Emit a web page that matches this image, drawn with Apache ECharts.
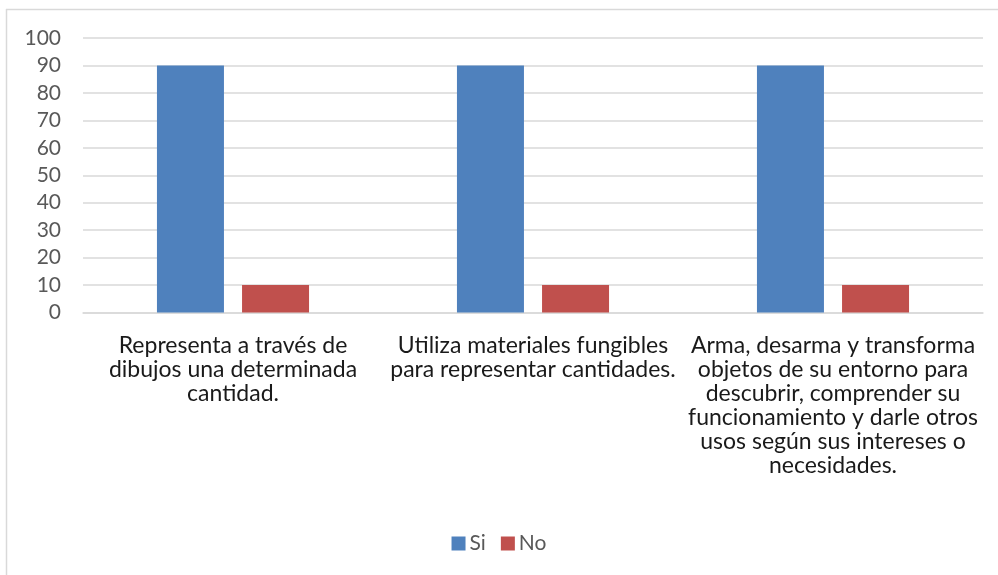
<!DOCTYPE html>
<html>
<head>
<meta charset="utf-8">
<script src="https://cdn.jsdelivr.net/npm/echarts@6/dist/echarts.min.js"></script>
<style>
html,body{margin:0;padding:0;background:#fff;}
#chart{width:998px;height:575px;}
</style>
</head>
<body>
<div id="chart"></div>
<script>
const categories = [
  'Representa a través de\ndibujos una determinada\ncantidad.',
  'Utiliza materiales fungibles\npara representar cantidades.',
  'Arma, desarma y transforma\nobjetos de su entorno para\ndescubrir, comprender su\nfuncionamiento y darle otros\nusos según sus intereses o\nnecesidades.'
];
const seriesNames = ['Si', 'No'];
const siValues = [90, 90, 90];
const noValues = [10, 10, 10];
const yTicks = { min: 0, max: 100, interval: 10 };

const FONT = 'Lato, "Open Sans", sans-serif';
const chart = echarts.init(document.getElementById('chart'), null, {renderer: 'canvas'});
chart.setOption({
  animation: false,
  backgroundColor: '#ffffff',
  graphic: [
    { type: 'line', shape: { x1: 6.5, y1: 9, x2: 6.5, y2: 575 }, style: { stroke: '#d9d9d9', lineWidth: 1.5 } },
    { type: 'line', shape: { x1: 6, y1: 9.5, x2: 998, y2: 9.5 }, style: { stroke: '#d9d9d9', lineWidth: 1.5 } }
  ],
  grid: { left: 83, right: 15, top: 38, bottom: 262.5, containLabel: false },
  legend: {
    data: seriesNames,
    bottom: 16,
    left: 'center',
    itemWidth: 14,
    itemHeight: 14,
    itemGap: 15,
    icon: 'rect',
    textStyle: { fontFamily: FONT, fontSize: 21, color: '#595959', padding: [0, 0, 0, -1] }
  },
  xAxis: {
    type: 'category',
    data: categories,
    axisLine: { show: true, lineStyle: { color: '#d9d9d9', width: 1.5 } },
    axisTick: { show: false },
    axisLabel: {
      interval: 0,
      margin: 21,
      fontFamily: FONT,
      fontSize: 23,
      lineHeight: 24,
      color: '#1a1a1a',
      align: 'center'
    }
  },
  yAxis: {
    type: 'value',
    min: yTicks.min,
    max: yTicks.max,
    interval: yTicks.interval,
    axisLine: { show: false },
    axisTick: { show: false },
    splitLine: { lineStyle: { color: '#d9d9d9', width: 1.5 } },
    axisLabel: { fontFamily: FONT, fontSize: 21, color: '#595959', margin: 22 }
  },
  series: [
    { name: seriesNames[0], type: 'bar', data: siValues, barWidth: 67, barGap: '27%', itemStyle: { color: '#4f81bd' } },
    { name: seriesNames[1], type: 'bar', data: noValues, barWidth: 67, barGap: '27%', itemStyle: { color: '#c0504d' } }
  ]
});
</script>
</body>
</html>
